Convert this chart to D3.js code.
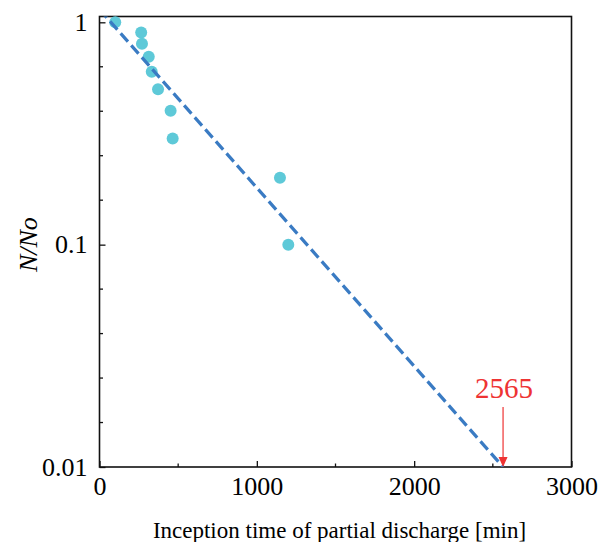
<!DOCTYPE html>
<html>
<head>
<meta charset="utf-8">
<script src="https://cdn.jsdelivr.net/npm/d3@7"></script>
</head>
<body>
<div id="chart"></div>
<script>
// inception time [min] of each sample, and surviving fraction N/No
const times = [100, 265, 270, 313, 332, 372, 452, 465, 1147, 1200];
const ratios = [1.0, 0.9, 0.8, 0.7, 0.6, 0.5, 0.4, 0.3, 0.2, 0.1];

// fitted exponential line, from t=0 down to the 1% point
const fitTimes = [0, 2565];
const fitRatios = [1.143, 0.01];
const markTime = 2565;

const xTicks = [0, 1000, 2000, 3000];
const xMinorTicks = [500, 1500, 2500];
const yTicks = [1, 0.1, 0.01];
const yTickLabels = ["1", "0.1", "0.01"];

const width = 612, height = 542;
const margin = { left: 99.5, right: 40.5, top: 16.5, bottom: 75 };
const serif = "Liberation Serif";
const bodyOffset = 8; // default body margin, undone through the viewBox

const x = d3.scaleLinear().domain([0, 3000]).range([margin.left, width - margin.right]);
const y = d3.scaleLog().domain([0.01, 1.062]).range([height - margin.bottom, margin.top]);

const svg = d3.select("#chart").append("svg")
  .attr("width", width)
  .attr("height", height)
  .attr("viewBox", [bodyOffset, bodyOffset, width, height])
  .attr("overflow", "visible");

svg.append("defs").append("clipPath").attr("id", "plot-clip")
  .append("rect")
  .attr("x", x(0)).attr("y", y(1.062))
  .attr("width", x(3000) - x(0))
  .attr("height", y(0.01) - y(1.062));

// y minor ticks, evenly spaced in each decade (0.2, 0.4, 0.6, 0.8 of a decade)
const yMinor = [];
[-2, -1].forEach((d) => {
  [0.2, 0.4, 0.6, 0.8].forEach((f) => yMinor.push(Math.pow(10, d + f)));
});

const axisColor = "#111";

// ticks point inwards
const yAxis = d3.axisLeft(y).tickValues(yTicks).tickSize(-6).tickPadding(12)
  .tickFormat((d, i) => yTickLabels[i]);
const gy = svg.append("g").attr("transform", `translate(${x(0)},0)`).call(yAxis)
  .attr("font-family", serif);
gy.select(".domain").remove();
gy.selectAll(".tick line").attr("stroke", axisColor).attr("stroke-width", 1.3);
gy.selectAll(".tick text")
  .attr("font-size", 26).attr("fill", "#000")
  .attr("font-family", serif);

svg.append("g").selectAll("line").data(yMinor).join("line")
  .attr("x1", x(0)).attr("x2", x(0) + 3.5)
  .attr("y1", (d) => y(d)).attr("y2", (d) => y(d))
  .attr("stroke", axisColor).attr("stroke-width", 1.3);

const xAxis = d3.axisBottom(x).tickValues(xTicks).tickSize(-6).tickPadding(10)
  .tickFormat(d3.format("d"));
const gx = svg.append("g").attr("transform", `translate(0,${y(0.01)})`).call(xAxis)
  .attr("font-family", serif);
gx.select(".domain").remove();
gx.selectAll(".tick line").attr("stroke", axisColor).attr("stroke-width", 1.3);
gx.selectAll(".tick text")
  .attr("font-size", 26).attr("fill", "#000")
  .attr("font-family", serif);

svg.append("g").selectAll("line").data(xMinorTicks).join("line")
  .attr("x1", (d) => x(d)).attr("x2", (d) => x(d))
  .attr("y1", y(0.01)).attr("y2", y(0.01) - 3.5)
  .attr("stroke", axisColor).attr("stroke-width", 1.3);

// frame
svg.append("rect")
  .attr("x", x(0)).attr("y", y(1.062))
  .attr("width", x(3000) - x(0))
  .attr("height", y(0.01) - y(1.062))
  .attr("fill", "none")
  .attr("stroke", axisColor)
  .attr("stroke-width", 1.6);

// data points
svg.append("g").selectAll("circle").data(times).join("circle")
  .attr("cx", (d) => x(d))
  .attr("cy", (d, i) => y(ratios[i]))
  .attr("r", 6)
  .attr("fill", "#5ec9d8");

// fitted line
const line = d3.line().x((d) => x(d[0])).y((d) => y(d[1]));
svg.append("path")
  .datum(fitTimes.map((t, i) => [t, fitRatios[i]]))
  .attr("clip-path", "url(#plot-clip)")
  .attr("d", line)
  .attr("fill", "none")
  .attr("stroke", "#3a7bc3")
  .attr("stroke-width", 3.2)
  .attr("stroke-dasharray", "11,5");

// red arrow marking 2565 min
const red = "#ee3333";
const ax = x(markTime);
svg.append("line")
  .attr("x1", ax).attr("x2", ax)
  .attr("y1", 407).attr("y2", y(0.01) - 8)
  .attr("stroke", red).attr("stroke-width", 1.2);
svg.append("path")
  .attr("d", `M${ax - 4.5},${y(0.01) - 10}L${ax + 4.5},${y(0.01) - 10}L${ax},${y(0.01)}Z`)
  .attr("fill", red);
svg.append("text")
  .attr("x", ax + 1).attr("y", 398)
  .attr("text-anchor", "middle")
  .attr("font-size", 29)
  .attr("font-family", serif)
  .attr("fill", red)
  .text(markTime);

// axis titles
svg.append("text")
  .attr("x", (x(0) + x(3000)) / 2 + 4)
  .attr("y", 538)
  .attr("text-anchor", "middle")
  .attr("font-size", 23)
  .attr("font-family", serif)
  .attr("fill", "#000")
  .text("Inception time of partial discharge [min]");

svg.append("text")
  .attr("transform", `translate(37,${y(0.1)}) rotate(-90)`)
  .attr("text-anchor", "middle")
  .attr("font-size", 26)
  .attr("font-style", "italic")
  .attr("font-family", serif)
  .attr("fill", "#000")
  .text("N/No");
</script>
</body>
</html>
